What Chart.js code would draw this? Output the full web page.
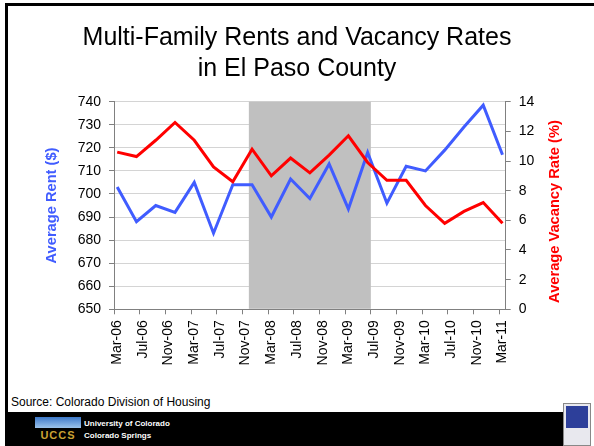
<!DOCTYPE html>
<html>
<head>
	<title>Multi-Family Rents and Vacancy Rates</title>
	<script src="https://cdn.jsdelivr.net/npm/chart.js@4.4.1/dist/chart.umd.min.js"></script>
<style>
	body { margin: 0; width: 594px; height: 446px; background: #fff; overflow: hidden; position: relative; font-family: 'Liberation Sans', Arial, sans-serif; }
	#frame { position: absolute; left: 5px; top: 3px; width: 589px; height: 409px; border-left: 3px solid #000; border-top: 3px solid #000; box-sizing: border-box; }
	#band { position: absolute; left: 5px; top: 412px; width: 558px; height: 34px; background: #000; }
	#source { position: absolute; left: 11px; top: 395px; font-size: 12px; color: #000; }
	#uccs { position: absolute; left: 35px; top: 417px; width: 46px; height: 26px; background: #000; }
	#uccs .sky { height: 11px; background: linear-gradient(#3d78c8, #9cc3ea); }
	#uccs .name { color: #c9a233; font-weight: bold; font-size: 11px; line-height: 14px; text-align: center; letter-spacing: 1px; }
	#univ { position: absolute; left: 84px; top: 418px; color: #fff; font-weight: bold; font-size: 8px; line-height: 12px; }
	#badge { position: absolute; left: 563px; top: 403px; width: 28px; height: 43px; background: #e8e8ee; border: 1px solid #888; box-sizing: border-box; }
	#badge .pic { margin: 2px; height: 22px; background: #2d3f9a; }
	canvas { position: absolute; left: 0; top: 0; }
</style>
</head>
<body>
<div id="frame"></div>
<div id="source">Source: Colorado Division of Housing</div>
<div id="band"></div>
<div id="uccs"><div class="sky"></div><div class="name">UCCS</div></div>
<div id="univ">University of Colorado<br>Colorado Springs</div>
<div id="badge"><div class="pic"></div></div>
<canvas id="chart" width="594" height="446"></canvas>

<script>
var quarters = ['Mar-06','Jun-06','Sep-06','Dec-06','Mar-07','Jun-07','Sep-07','Dec-07',
	'Mar-08','Jun-08','Sep-08','Dec-08','Mar-09','Jun-09','Sep-09','Dec-09',
	'Mar-10','Jun-10','Sep-10','Dec-10','Mar-11'];
var rent = [703, 688, 695, 692, 705, 683, 704, 704, 690, 706.5, 698, 713,
	693.5, 718, 696, 712, 710, 719, 729, 738.5, 717];
var vacancy = [10.6, 10.3, 11.4, 12.6, 11.4, 9.6, 8.6, 10.8, 9.0, 10.2, 9.2, 10.4,
	11.7, 9.9, 8.7, 8.7, 7.0, 5.8, 6.6, 7.2, 5.8];
var tickLabels = ['Mar-06','Jul-06','Nov-06','Mar-07','Jul-07','Nov-07','Mar-08','Jul-08',
	'Nov-08','Mar-09','Jul-09','Nov-09','Mar-10','Jul-10','Nov-10','Mar-11'];
var recessionStart = 'Dec-07';
var recessionEnd = 'Jun-09';
var rightTitle = 'Average Vacancy Rate (%)';

var blue = '#405cff';
var red = '#ff0000';
var font = "'Liberation Sans', Arial, sans-serif";

var monthNames = ['Jan','Feb','Mar','Apr','May','Jun','Jul','Aug','Sep','Oct','Nov','Dec'];

// months since Mar-06
function monthIndex(label) {
	var parts = label.split('-');
	return (parseInt(parts[1], 10) - 6) * 12 + monthNames.indexOf(parts[0]) - 2;
}

function series(values) {
	return values.map(function(v, i) {
		return { x : monthIndex(quarters[i]), y : v };
	});
}

var recessionBox = {
	id : 'recessionBox',
	beforeDatasetsDraw : function(chart) {
		var ctx = chart.ctx;
		var area = chart.chartArea;
		var xs = chart.scales.x;
		var x1 = xs.getPixelForValue(monthIndex(recessionStart) - 0.5);
		var x2 = xs.getPixelForValue(monthIndex(recessionEnd) + 0.5);
		ctx.save();
		ctx.fillStyle = '#c0c0c0';
		ctx.fillRect(x1, area.top, x2 - x1, area.bottom - area.top - 0.5);
		ctx.restore();
	}
};

// right axis title reads bottom-to-top like the left one
var rightAxisTitle = {
	id : 'rightAxisTitle',
	afterDraw : function(chart) {
		var ctx = chart.ctx;
		var s = chart.scales.y1;
		ctx.save();
		ctx.translate(s.right - 39, (s.top + s.bottom) / 2 + 6);
		ctx.rotate(-Math.PI / 2);
		ctx.textAlign = 'center';
		ctx.textBaseline = 'middle';
		ctx.fillStyle = red;
		ctx.font = 'bold 14.67px ' + font;
		ctx.fillText(rightTitle, 0, 0);
		ctx.restore();
	}
};

new Chart(document.getElementById('chart'), {
	type : 'line',
	data : {
		datasets : [{
			label : 'Average Rent ($)',
			data : series(rent),
			borderColor : blue,
			borderWidth : 3,
			pointRadius : 0,
			tension : 0,
			yAxisID : 'y',
			order : 2
		}, {
			label : rightTitle,
			data : series(vacancy),
			borderColor : red,
			borderWidth : 3,
			pointRadius : 0,
			tension : 0,
			yAxisID : 'y1',
			order : 1
		}]
	},
	plugins : [recessionBox, rightAxisTitle],
	options : {
		responsive : false,
		animation : false,
		layout : { padding : 0 },
		plugins : {
			legend : { display : false },
			tooltip : { enabled : false },
			title : {
				display : true,
				text : ['Multi-Family Rents and Vacancy Rates', 'in El Paso County'],
				color : '#000',
				font : { family : font, size : 25, weight : 'normal', lineHeight : 1.264 },
				padding : { top : 22.2, bottom : 16.3 }
			}
		},
		scales : {
			x : {
				type : 'linear',
				bounds : 'data',
				min : -0.5,
				max : 60.5,
				afterBuildTicks : function(scale) {
					scale.ticks = tickLabels.map(function(l) {
						return { value : monthIndex(l) - 0.5 };
					});
				},
				afterFit : function(scale) { scale.height = 136.7; },
				ticks : {
					autoSkip : false,
					maxRotation : 90,
					minRotation : 90,
					labelOffset : 3.2,
					padding : 6,
					color : '#000',
					font : { family : font, size : 14 },
					callback : function(value, index) { return tickLabels[index]; }
				},
				grid : { drawOnChartArea : false, tickLength : 5, color : '#808080' },
				border : { color : '#808080' }
			},
			y : {
				position : 'left',
				min : 650,
				max : 740,
				afterFit : function(scale) { scale.width = 114; },
				ticks : {
					stepSize : 10,
					padding : 8,
					color : '#000',
					font : { family : font, size : 14 }
				},
				grid : { color : '#d4d4d4', tickColor : '#808080', tickLength : 5 },
				border : { color : '#808080' },
				title : {
					display : true,
					text : 'Average Rent ($)',
					color : blue,
					font : { family : font, size : 14.67, weight : 'bold', lineHeight : 1.2 },
					padding : { top : 42.9, bottom : 0 }
				}
			},
			y1 : {
				position : 'right',
				min : 0,
				max : 14,
				afterFit : function(scale) { scale.width = 88.3; },
				ticks : {
					stepSize : 2,
					padding : 8,
					color : '#000',
					font : { family : font, size : 14 }
				},
				grid : { drawOnChartArea : false, tickColor : '#808080', tickLength : 5 },
				border : { color : '#808080' }
			}
		}
	}
});
</script>
</body>
</html>
